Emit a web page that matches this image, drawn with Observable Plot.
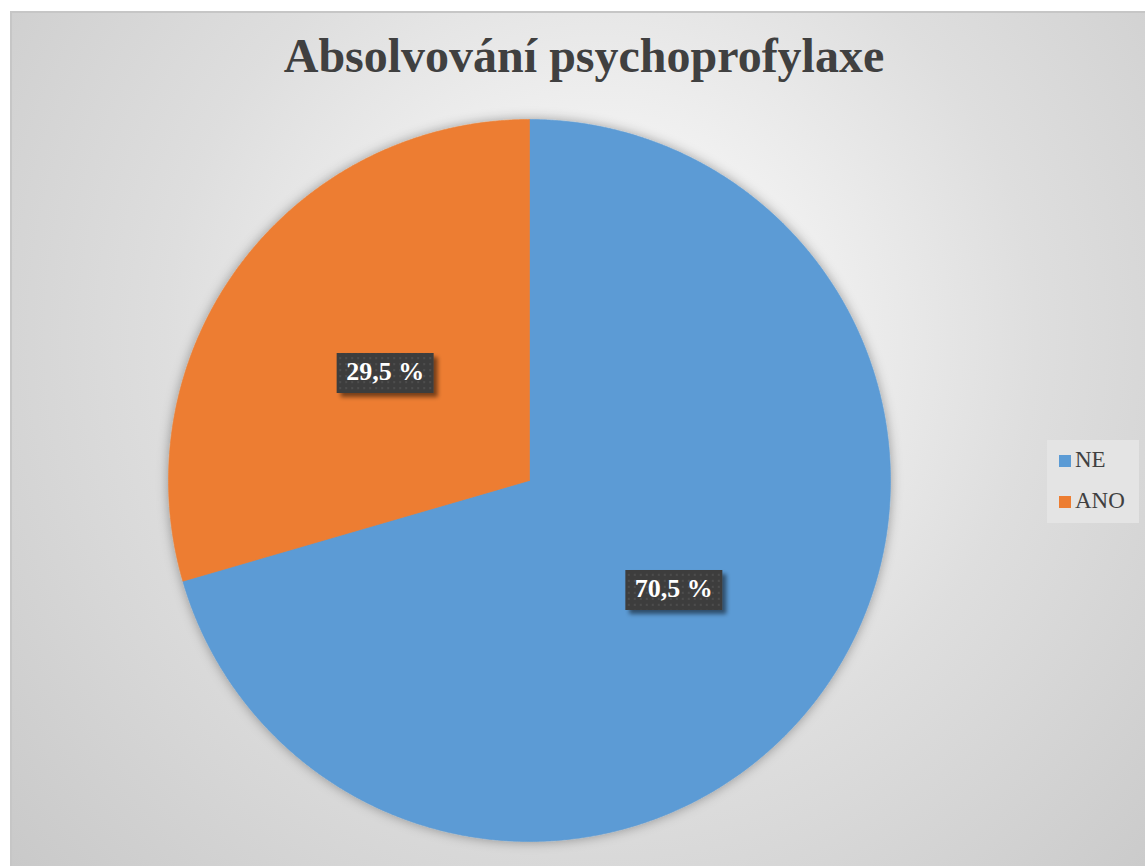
<!DOCTYPE html>
<html>
<head>
<meta charset="utf-8">
<script src="https://cdn.jsdelivr.net/npm/d3@7"></script>
<script src="https://cdn.jsdelivr.net/npm/@observablehq/plot@0.6"></script>
<style>
  html, body { margin: 0; padding: 0; background: #ffffff; }
  #page { position: relative; width: 1145px; height: 866px; overflow: hidden; }
  #chartbg {
    position: absolute; left: 10px; top: 11px; width: 1135px; height: 855px;
    border-top: 2px solid #c6c6c6; border-left: 2px solid #c6c6c6; box-sizing: border-box;
    background: radial-gradient(circle farthest-corner at 52% 38%, #ffffff 0%, #f3f3f3 22%, #dedede 55%, #c9c9c9 100%);
  }
  #title {
    position: absolute; left: 10px; width: 1148px; top: 28px; text-align: center;
    font-family: "Liberation Serif", "Times New Roman", serif; font-weight: bold;
    font-size: 48px; color: #404040; white-space: nowrap;
  }
  #plot { position: absolute; left: 0; top: 0; }
  #legend {
    position: absolute; left: 1047px; top: 440px; width: 92px; height: 83px;
    background: #e4e4e4; box-sizing: border-box; padding-top: 8px; padding-left: 12px;
    font-family: "Liberation Serif", "Times New Roman", serif; font-size: 23px; color: #404040;
  }
  .item { display: flex; align-items: center; height: 24px; margin-bottom: 17px; }
  .sw { width: 12px; height: 12px; margin-right: 4px; margin-top: 2px; }
</style>
</head>
<body>
<svg width="0" height="0" style="position:absolute">
  <defs>
    <pattern id="dots" width="6" height="6" patternUnits="userSpaceOnUse">
      <rect width="6" height="6" fill="#3d3d3d"></rect>
      <circle cx="3" cy="3" r="0.9" fill="#545454"></circle>
    </pattern>
    <filter id="pieShadow" x="-10%" y="-10%" width="120%" height="120%">
      <feGaussianBlur in="SourceAlpha" stdDeviation="6" result="blur"></feGaussianBlur>
      <feFlood flood-color="#000000" flood-opacity="0.35" result="col"></feFlood>
      <feComposite in="col" in2="blur" operator="in" result="shadow"></feComposite>
      <feMerge>
        <feMergeNode in="shadow"></feMergeNode>
        <feMergeNode in="SourceGraphic"></feMergeNode>
      </feMerge>
    </filter>
    <filter id="boxShadow" x="-20%" y="-40%" width="150%" height="200%">
      <feGaussianBlur in="SourceAlpha" stdDeviation="2" result="blur"></feGaussianBlur>
      <feOffset in="blur" dx="4" dy="4" result="off"></feOffset>
      <feFlood flood-color="#000000" flood-opacity="0.5" result="col"></feFlood>
      <feComposite in="col" in2="off" operator="in" result="shadow"></feComposite>
      <feMerge>
        <feMergeNode in="shadow"></feMergeNode>
        <feMergeNode in="SourceGraphic"></feMergeNode>
      </feMerge>
    </filter>
  </defs>
</svg>
<div id="page">
  <div id="chartbg"></div>
  <div id="title"></div>
  <div id="plot"></div>
  <div id="legend"></div>
</div>
<script>
const title = "Absolvování psychoprofylaxe";
const categories = ["NE", "ANO"];
const values = [70.5, 29.5];
const colors = ["#5B9BD5", "#ED7D31"];

document.getElementById("title").textContent = title;

// pie angles from the data (clockwise from 12 o'clock)
const arcs = d3.pie().sort(null)(values);

// slice outlines in unit-circle coordinates
const slicePts = [];
arcs.forEach((a, i) => {
  const cat = categories[i];
  slicePts.push({cat, px: 0, py: 0});
  const n = Math.max(2, Math.ceil((a.endAngle - a.startAngle) / 0.005));
  for (let k = 0; k <= n; k++) {
    const t = a.startAngle + (a.endAngle - a.startAngle) * k / n;
    slicePts.push({cat, px: Math.sin(t), py: Math.cos(t)});
  }
  slicePts.push({cat, px: 0, py: 0});
});

// labels at half radius on each slice's mid angle
const labels = arcs.map((a, i) => {
  const m = (a.startAngle + a.endAngle) / 2;
  return {
    cat: categories[i],
    px: 0.5 * Math.sin(m),
    py: 0.5 * Math.cos(m),
    text: values[i].toFixed(1).replace(".", ",") + " %"
  };
});

const boxSymbol = {
  draw(context) { context.rect(-48.5, -20, 97, 40); }
};

const chart = Plot.plot({
  width: 1145,
  height: 866,
  marginLeft: 168,
  marginRight: 255,
  marginTop: 119,
  marginBottom: 25,
  style: { background: "transparent", overflow: "visible" },
  x: { domain: [-1, 1], axis: null },
  y: { domain: [-1, 1], axis: null },
  color: { domain: categories, range: colors },
  marks: [
    Plot.line(slicePts, {
      x: "px", y: "py", z: "cat", fill: "cat", stroke: "cat", strokeWidth: 0.6
    }),
    Plot.dot(labels, {
      x: "px", y: "py", dy: 1, symbol: boxSymbol, r: 10, fill: "url(#dots)", stroke: "none"
    }),
    Plot.text(labels, {
      x: "px", y: "py", text: "text", fill: "white", fontSize: 26, fontWeight: "bold",
      fontFamily: "'Liberation Serif', 'Times New Roman', serif"
    })
  ]
});
document.getElementById("plot").appendChild(chart);
const lineG = chart.querySelector('g[aria-label="line"]');
if (lineG) lineG.setAttribute("filter", "url(#pieShadow)");
const dotG = chart.querySelector('g[aria-label="dot"]');
if (dotG) dotG.querySelectorAll("path").forEach(p => p.setAttribute("filter", "url(#boxShadow)"));

const legend = document.getElementById("legend");
categories.forEach((c, i) => {
  const item = document.createElement("div");
  item.className = "item";
  const sw = document.createElement("div");
  sw.className = "sw";
  sw.style.background = colors[i];
  const t = document.createElement("span");
  t.textContent = c;
  item.appendChild(sw);
  item.appendChild(t);
  legend.appendChild(item);
});
</script>
</body>
</html>
